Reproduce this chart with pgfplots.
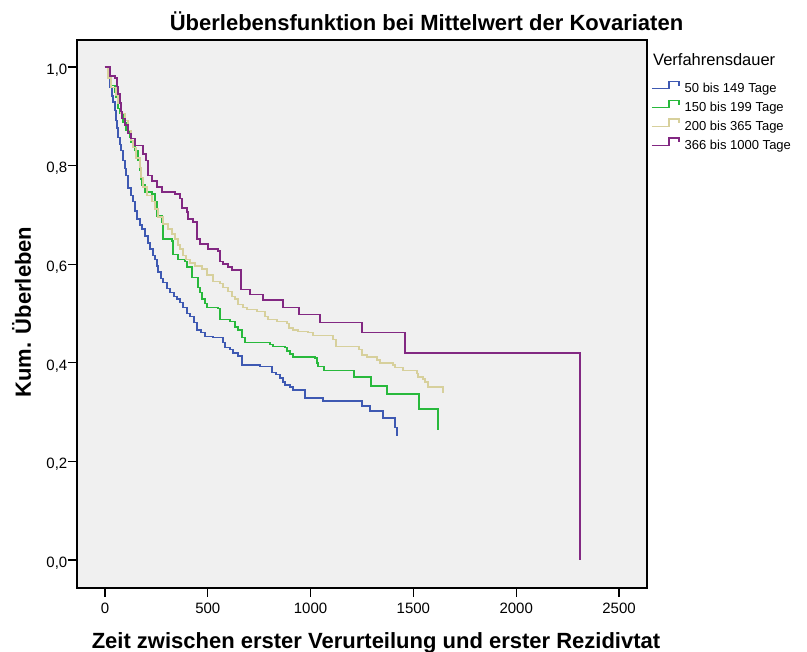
\documentclass[border=0pt]{standalone}
\usepackage{fontspec}
\setmainfont{Liberation Sans}
\usepackage{pgfplots}
\pgfplotsset{compat=1.18}
\definecolor{bgcol}{RGB}{240,240,240}
\definecolor{cblue}{RGB}{62,89,178}
\definecolor{cgreen}{RGB}{40,185,60}
\definecolor{cbeige}{RGB}{215,208,156}
\definecolor{cpurple}{RGB}{130,40,130}
\begin{document}
\begin{tikzpicture}
\path[use as bounding box] (-77bp,-64bp) rectangle (730bp,588bp);
\begin{axis}[
  at={(0,0)}, anchor=south west,
  scale only axis, width=570bp, height=548bp,
  xmin=-136, xmax=2636, ymin=-0.057, ymax=1.055,
  axis background/.style={fill=bgcol},
  axis line style={line width=1.2bp, black},
  xtick={0,500,1000,1500,2000,2500},
  ytick={0,0.2,0.4,0.6,0.8,1},
  xtick pos=bottom, ytick pos=left,
  tick align=outside, major tick length=9bp,
  tick style={black, line width=1.2bp},
  /pgf/number format/assume math mode=true,
  x tick label style={/pgf/number format/1000 sep={}, yshift=-3bp},
  y tick label style={/pgf/number format/use comma, /pgf/number format/fixed, /pgf/number format/fixed zerofill, /pgf/number format/precision=1, inner xsep=0.5bp, yshift=-3bp},
  ticklabel style={font=\fontsize{15bp}{17bp}\selectfont},
  legend cell align=left,
  legend style={at={(1.00702,0.9261)}, anchor=north west, draw=none, fill=none,
    inner sep=0pt, row sep=3.8bp, column sep=5bp,
    font=\fontsize{13bp}{15bp}\selectfont,
    nodes={inner sep=0pt, text height=11.5bp, text depth=3bp}},
  legend image code/.code={\draw[#1] (0bp,-0.25bp) -- (17bp,-0.25bp) -- (17bp,7.05bp) -- (27bp,7.05bp) -- (27bp,2.75bp);},
]
% 50 bis 149 Tage
\addplot[const plot, color=cblue, line width=1.5bp] coordinates {
(0,1.000) (15,0.978) (24,0.959) (34,0.941) (39,0.929) (49,0.912) (54,0.892) (58,0.876)
(63,0.857) (73,0.843) (78,0.831) (88,0.810) (97,0.794) (102,0.780) (112,0.755) (126,0.739)
(136,0.727) (146,0.708) (156,0.692) (170,0.680) (180,0.671) (195,0.657) (209,0.643) (219,0.631)
(233,0.618) (243,0.610) (253,0.596) (258,0.584) (272,0.571) (282,0.563) (302,0.551) (316,0.543)
(336,0.535) (350,0.529) (365,0.522) (379,0.512) (399,0.500) (413,0.494) (433,0.482) (447,0.467)
(467,0.461) (486,0.453) (525,0.451) (574,0.441) (584,0.431) (608,0.427) (623,0.420) (647,0.414)
(666,0.396) (754,0.392) (812,0.380) (832,0.376) (851,0.369) (866,0.361) (876,0.355) (900,0.351)
(914,0.345) (973,0.329) (1060,0.322) (1250,0.312) (1289,0.302) (1352,0.288) (1411,0.269) (1420,0.251)
};
\addlegendentry{50 bis 149 Tage}
% 150 bis 199 Tage
\addplot[const plot, color=cgreen, line width=1.5bp] coordinates {
(0,1.000) (15,0.980) (29,0.963) (49,0.949) (54,0.939) (63,0.916) (73,0.906) (88,0.888)
(102,0.871) (122,0.857) (126,0.847) (146,0.831) (161,0.810) (170,0.790) (175,0.773) (180,0.761)
(195,0.747) (229,0.743) (243,0.727) (253,0.698) (277,0.686) (282,0.651) (326,0.647) (331,0.620)
(355,0.610) (389,0.606) (399,0.594) (423,0.573) (452,0.553) (462,0.543) (472,0.529) (486,0.520)
(496,0.512) (550,0.510) (559,0.488) (608,0.484) (632,0.473) (647,0.467) (666,0.451) (681,0.441)
(803,0.437) (817,0.433) (876,0.431) (885,0.424) (900,0.418) (914,0.412) (1021,0.410) (1031,0.400)
(1036,0.392) (1065,0.384) (1211,0.371) (1294,0.353) (1372,0.337) (1527,0.306) (1620,0.263)
};
\addlegendentry{150 bis 199 Tage}
% 200 bis 365 Tage
\addplot[const plot, color=cbeige, line width=1.5bp] coordinates {
(0,1.000) (15,0.978) (29,0.959) (54,0.943) (63,0.927) (78,0.906) (97,0.892) (112,0.871)
(126,0.851) (136,0.837) (151,0.816) (170,0.796) (175,0.776) (185,0.757) (204,0.739) (229,0.727)
(243,0.712) (258,0.696) (282,0.682) (306,0.671) (326,0.661) (340,0.651) (355,0.639) (365,0.631)
(379,0.618) (394,0.610) (413,0.602) (438,0.596) (472,0.590) (496,0.578) (525,0.565) (559,0.561)
(574,0.553) (598,0.545) (618,0.535) (632,0.529) (647,0.518) (671,0.512) (691,0.508) (739,0.504)
(778,0.494) (793,0.488) (837,0.484) (885,0.480) (895,0.471) (914,0.467) (939,0.463) (987,0.461)
(1012,0.455) (1109,0.447) (1124,0.433) (1235,0.427) (1250,0.416) (1274,0.412) (1323,0.406) (1338,0.400)
(1401,0.396) (1411,0.390) (1449,0.384) (1518,0.378) (1522,0.371) (1547,0.367) (1556,0.361) (1571,0.351)
(1644,0.339)
};
\addlegendentry{200 bis 365 Tage}
% 366 bis 1000 Tage
\addplot[const plot, color=cpurple, line width=1.5bp] coordinates {
(0,1.000) (24,0.982) (49,0.978) (58,0.961) (63,0.945) (73,0.927) (78,0.910) (83,0.896)
(97,0.882) (112,0.865) (126,0.855) (146,0.841) (185,0.824) (199,0.810) (209,0.780) (229,0.769)
(253,0.757) (277,0.747) (340,0.743) (365,0.733) (375,0.714) (399,0.706) (404,0.692) (428,0.686)
(447,0.651) (462,0.641) (501,0.631) (550,0.627) (559,0.606) (574,0.600) (598,0.594) (618,0.588)
(662,0.549) (705,0.539) (768,0.527) (866,0.512) (944,0.498) (1046,0.482) (1250,0.461) (1459,0.420)
(2310,0.000)
};
\addlegendentry{366 bis 1000 Tage}
\end{axis}
\node[anchor=base, font=\fontsize{22bp}{26bp}\selectfont\bfseries] at (349.5bp,557bp) {Überlebensfunktion bei Mittelwert der Kovariaten};
\node[anchor=base, font=\fontsize{22bp}{26bp}\selectfont\bfseries] at (299bp,-60bp) {Zeit zwischen erster Verurteilung und erster Rezidivtat};
\node[anchor=base, rotate=90, font=\fontsize{22bp}{26bp}\selectfont\bfseries] at (-46bp,276bp) {Kum. Überleben};
\node[anchor=base west, inner sep=0pt, font=\fontsize{16.5bp}{19bp}\selectfont] at (576bp,522bp) {Verfahrensdauer};
\end{tikzpicture}
\end{document}
